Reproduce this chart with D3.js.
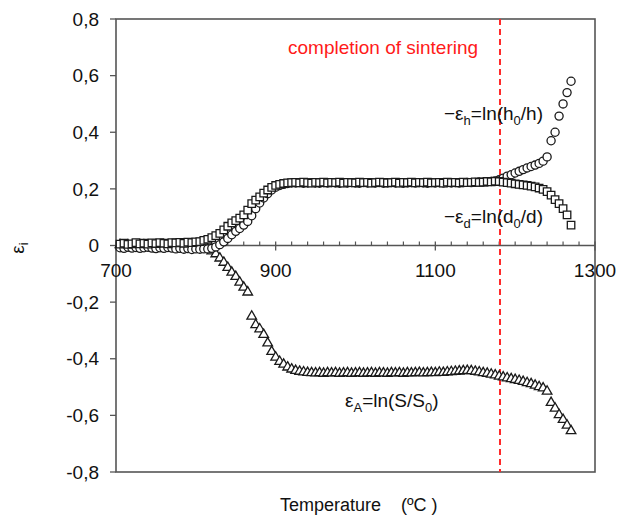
<!DOCTYPE html>
<html>
<head>
<meta charset="utf-8">
<script src="https://cdn.jsdelivr.net/npm/d3@7"></script>
<style>
  body { margin: 0; background: #fff; }
  text { font-family: "Liberation Sans", Arial, sans-serif; }
</style>
</head>
<body>
<div id="chart"></div>
<script>
// ============ donnees ============ //
const temps = [
  705, 710, 715, 720, 725, 730, 735, 740, 745, 750,
  755, 760, 765, 770, 775, 780, 785, 790, 795, 800,
  805, 810, 815, 820, 825, 830, 835, 840, 845, 850,
  855, 860, 865, 870, 875, 880, 885, 890, 895, 900,
  905, 910, 915, 920, 925, 930, 935, 940, 945, 950,
  955, 960, 965, 970, 975, 980, 985, 990, 995, 1000,
  1005, 1010, 1015, 1020, 1025, 1030, 1035, 1040, 1045, 1050,
  1055, 1060, 1065, 1070, 1075, 1080, 1085, 1090, 1095, 1100,
  1105, 1110, 1115, 1120, 1125, 1130, 1135, 1140, 1145, 1150,
  1155, 1160, 1165, 1170, 1175, 1180, 1185, 1190, 1195, 1200,
  1205, 1210, 1215, 1220, 1225, 1230, 1235, 1240, 1245, 1250,
  1255, 1260, 1265, 1270
];

// -eps_h = ln(h0/h)  (cercles)
const epsH = [
  -0.008, -0.01, -0.006, -0.009, -0.007, -0.01, -0.008, -0.006, -0.009, -0.011,
  -0.008, -0.01, -0.007, -0.009, -0.012, -0.01, -0.013, -0.011, -0.014, -0.012,
  -0.013, -0.012, -0.012, -0.01, -0.005, 0.003, 0.013, 0.025, 0.038, 0.05,
  0.06, 0.072, 0.085, 0.105, 0.13, 0.15, 0.168, 0.183, 0.196, 0.206,
  0.212, 0.216, 0.219, 0.221, 0.221, 0.222, 0.22, 0.221, 0.222, 0.221,
  0.22, 0.222, 0.221, 0.222, 0.221, 0.22, 0.222, 0.221, 0.222, 0.221,
  0.22, 0.222, 0.221, 0.222, 0.221, 0.222, 0.22, 0.221, 0.222, 0.221,
  0.222, 0.22, 0.221, 0.222, 0.221, 0.222, 0.221, 0.22, 0.222, 0.221,
  0.222, 0.221, 0.222, 0.221, 0.222, 0.221, 0.222, 0.223, 0.222, 0.223,
  0.224, 0.224, 0.225, 0.226, 0.228, 0.232, 0.238, 0.245, 0.25, 0.256,
  0.262, 0.268, 0.274, 0.279, 0.284, 0.29, 0.298, 0.313, 0.37, 0.4,
  0.457, 0.5, 0.54, 0.58
];

// -eps_d = ln(d0/d)  (carres)
const epsD = [
  0.005, 0.008, 0.004, 0.006, 0.01, 0.006, 0.008, 0.005, 0.009, 0.007,
  0.01, 0.008, 0.006, 0.01, 0.009, 0.011, 0.008, 0.012, 0.01, 0.013,
  0.014, 0.018, 0.022, 0.028, 0.035, 0.043, 0.055, 0.068, 0.08, 0.088,
  0.097, 0.108, 0.125, 0.148, 0.16, 0.172, 0.185, 0.196, 0.205, 0.212,
  0.216, 0.219, 0.221, 0.222, 0.223, 0.221, 0.224, 0.222, 0.22, 0.223,
  0.222, 0.224, 0.221, 0.223, 0.222, 0.224, 0.22, 0.223, 0.222, 0.221,
  0.224, 0.222, 0.223, 0.22, 0.222, 0.224, 0.223, 0.221, 0.222, 0.224,
  0.22, 0.223, 0.222, 0.224, 0.221, 0.223, 0.222, 0.224, 0.221, 0.222,
  0.223, 0.22, 0.224, 0.222, 0.223, 0.221, 0.224, 0.222, 0.223, 0.225,
  0.223, 0.224, 0.226, 0.225, 0.227, 0.226, 0.224, 0.222, 0.22, 0.218,
  0.216, 0.214, 0.212, 0.21, 0.207, 0.203, 0.198, 0.19, 0.178, 0.162,
  0.148, 0.13, 0.108, 0.072
];

// eps_A = ln(S/S0)  (triangles)
const epsA = [
  0.002, -0.002, 0.001, -0.003, 0, -0.002, 0.001, -0.001, -0.003, 0,
  -0.002, -0.001, -0.003, -0.002, 0, -0.003, -0.002, -0.004, -0.003, -0.005,
  -0.006, -0.01, -0.014, -0.02, -0.03, -0.045, -0.06, -0.078, -0.095, -0.11,
  -0.13, -0.148, -0.165, -0.25, -0.28, -0.295, -0.315, -0.345, -0.375, -0.395,
  -0.41, -0.42, -0.43, -0.437, -0.442, -0.445, -0.447, -0.449, -0.45, -0.451,
  -0.45, -0.452, -0.45, -0.451, -0.45, -0.452, -0.451, -0.45, -0.452, -0.451,
  -0.45, -0.452, -0.451, -0.45, -0.452, -0.45, -0.451, -0.452, -0.45, -0.451,
  -0.45, -0.452, -0.45, -0.451, -0.45, -0.449, -0.451, -0.45, -0.449, -0.45,
  -0.448, -0.449, -0.447, -0.446, -0.445, -0.444, -0.443, -0.442, -0.443, -0.445,
  -0.447, -0.45, -0.452, -0.455, -0.458, -0.462, -0.465, -0.468, -0.471, -0.474,
  -0.477, -0.481, -0.485, -0.489, -0.494, -0.499, -0.504, -0.515, -0.555, -0.575,
  -0.598, -0.615, -0.635, -0.655
];

const xTicks = [700, 900, 1100, 1300];
const yTicks = [-0.8, -0.6, -0.4, -0.2, 0, 0.2, 0.4, 0.6, 0.8];
const sinteringEnd = 1181;

// ==================== SVG ==================== //
const width = 620;
const height = 518;
const plotLeft = 116, plotRight = 595, plotTop = 19, plotBottom = 472;

const svg = d3.select("#chart")
    .append("svg")
    .attr("width", width)
    .attr("height", height);

const x = d3.scaleLinear().domain([700, 1300]).range([plotLeft, plotRight]);
const y = d3.scaleLinear().domain([-0.8, 0.8]).range([plotBottom, plotTop]);

const axisColor = "#555";
const fmt = d => d === 0 ? "0" : d.toFixed(1).replace(".", ",");

// cadre
svg.append("rect")
    .attr("x", plotLeft).attr("y", plotTop)
    .attr("width", plotRight - plotLeft).attr("height", plotBottom - plotTop)
    .attr("fill", "none")
    .attr("stroke", axisColor)
    .attr("stroke-width", 1.6);

// axe Y
svg.selectAll(".ytick")
    .data(yTicks)
    .enter()
    .append("line")
    .attr("x1", plotLeft - 6).attr("x2", plotLeft)
    .attr("y1", d => y(d)).attr("y2", d => y(d))
    .attr("stroke", axisColor)
    .attr("stroke-width", 1.3);

svg.selectAll(".ylabel")
    .data(yTicks)
    .enter()
    .append("text")
    .attr("x", plotLeft - 17)
    .attr("y", d => y(d))
    .attr("dy", "0.35em")
    .attr("text-anchor", "end")
    .attr("font-size", 19)
    .attr("fill", "#111")
    .text(fmt);

// axe X (a y = 0)
svg.append("line")
    .attr("x1", plotLeft).attr("x2", plotRight)
    .attr("y1", y(0)).attr("y2", y(0))
    .attr("stroke", axisColor)
    .attr("stroke-width", 1.5);

const minor = d3.range(720, 1300, 20).filter(t => !xTicks.includes(t));
svg.selectAll(".xminor")
    .data(minor)
    .enter()
    .append("line")
    .attr("x1", d => x(d)).attr("x2", d => x(d))
    .attr("y1", y(0) - 4).attr("y2", y(0))
    .attr("stroke", axisColor)
    .attr("stroke-width", 1.2);

svg.selectAll(".xmajor")
    .data(xTicks)
    .enter()
    .append("line")
    .attr("x1", d => x(d)).attr("x2", d => x(d))
    .attr("y1", y(0) - 4).attr("y2", y(0) + 5)
    .attr("stroke", axisColor)
    .attr("stroke-width", 1.3);

svg.selectAll(".xlabel")
    .data(xTicks)
    .enter()
    .append("text")
    .attr("x", d => x(d))
    .attr("y", y(0) + 31)
    .attr("text-anchor", "middle")
    .attr("font-size", 19)
    .attr("fill", "#111")
    .text(d => d);

// titres des axes
svg.append("text")
    .attr("x", 280)
    .attr("y", 511)
    .attr("font-size", 18)
    .attr("fill", "#111")
    .attr("xml:space", "preserve")
    .text("Temperature    (ºC )");

const yTitle = svg.append("text")
    .attr("transform", "translate(24,248) rotate(-90)")
    .attr("text-anchor", "middle")
    .attr("font-size", 19)
    .attr("fill", "#111");
yTitle.append("tspan").text("ε");
yTitle.append("tspan").attr("font-size", 13).attr("dy", 4).text("i");

// ligne fin de frittage
svg.append("line")
    .attr("x1", x(sinteringEnd)).attr("x2", x(sinteringEnd))
    .attr("y1", plotTop).attr("y2", plotBottom)
    .attr("stroke", "#ff2a2a")
    .attr("stroke-width", 2)
    .attr("stroke-dasharray", "6,4");

svg.append("text")
    .attr("x", 288)
    .attr("y", 54)
    .attr("font-size", 19)
    .attr("fill", "#ff1a1a")
    .text("completion of sintering");

// ==================== series ==================== //
function drawSeries(values, symbolType, size) {
    const sym = d3.symbol().type(symbolType).size(size);
    svg.append("g")
        .selectAll("path")
        .data(values.map((v, i) => [temps[i], v]))
        .enter()
        .append("path")
        .attr("d", sym)
        .attr("transform", d => `translate(${x(d[0])},${y(d[1])})`)
        .attr("fill", "#fff")
        .attr("stroke", "#1a1a1a")
        .attr("stroke-width", 1.3);
}

drawSeries(epsA, d3.symbolTriangle, 40);
drawSeries(epsH, d3.symbolCircle, 52);
drawSeries(epsD, d3.symbolSquare, 56);

// etiquettes des courbes
function label(xPos, yPos, parts) {
    const t = svg.append("text")
        .attr("x", xPos).attr("y", yPos)
        .attr("font-size", 19)
        .attr("fill", "#111");
    parts.forEach(p => {
        const s = t.append("tspan").text(p[0]);
        if (p[1] === "sub") {
            s.attr("font-size", 13).attr("dy", 5);
        } else if (p[1] === "up") {
            s.attr("dy", -5);
        }
    });
}

label(444, 120, [["−ε"], ["h", "sub"], ["=ln(h", "up"], ["0", "sub"], ["/h)", "up"]]);
label(444, 223, [["−ε"], ["d", "sub"], ["=ln(d", "up"], ["0", "sub"], ["/d)", "up"]]);
label(345, 407, [["ε"], ["A", "sub"], ["=ln(S/S", "up"], ["0", "sub"], [")", "up"]]);
</script>
</body>
</html>
